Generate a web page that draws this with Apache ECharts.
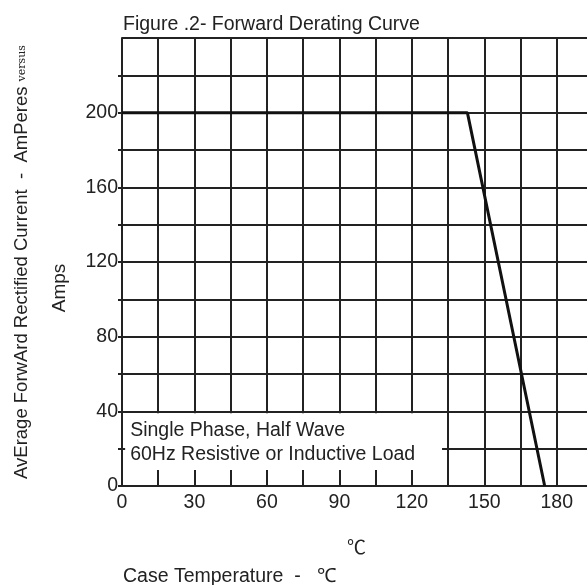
<!DOCTYPE html>
<html>
<head>
<meta charset="utf-8">
<script src="https://cdn.jsdelivr.net/npm/echarts@6/dist/echarts.min.js"></script>
<style>
  html, body { margin: 0; padding: 0; background: #fff; }
  #chart { width: 587px; height: 585px; }
</style>
</head>
<body>
<div id="chart"></div>
<script>
// 曲线数据
const caseTemp = [0, 143, 175];
const currentAmps = [200, 200, 0];
const noteLines = ["Single Phase, Half Wave", "60Hz Resistive or Inductive Load"];

const FONT = "Liberation Sans";
const INK = "#222";

const chart = echarts.init(document.getElementById("chart"));
const points = caseTemp.map(function (t, i) {
  return [t, currentAmps[i]];
});

const option = {
  animation: false,
  title: [
    {
      text: "Figure .2- Forward Derating Curve",
      left: 123,
      top: 15,
      padding: 0,
      textStyle: { fontFamily: FONT, fontSize: 19.5, fontWeight: "normal", color: INK },
    },
    {
      text: "℃",
      left: 347,
      top: 537,
      padding: 0,
      textStyle: { fontFamily: "Noto Sans CJK SC", fontSize: 19, fontWeight: "normal", color: INK },
    },
    {
      text: "Case Temperature  -   ℃",
      left: 123,
      top: 567,
      padding: 0,
      textStyle: { fontFamily: FONT, fontSize: 19.5, fontWeight: "normal", color: INK },
    },
  ],
  grid: { left: 122, right: -6, top: 38, bottom: 99, outerBoundsMode: "none" },
  xAxis: {
    type: "value",
    min: 0,
    max: 195,
    interval: 15,
    axisLine: { show: true, lineStyle: { color: INK, width: 2 } },
    axisTick: { show: false },
    splitLine: { show: true, lineStyle: { color: INK, width: 2 } },
    axisLabel: {
      fontFamily: FONT,
      fontSize: 19.5,
      color: INK,
      margin: 7,
      formatter: function (v) {
        return v % 30 === 0 ? String(v) : "";
      },
    },
  },
  yAxis: {
    type: "value",
    min: 0,
    max: 240,
    interval: 20,
    axisLine: { show: true, lineStyle: { color: INK, width: 2 } },
    axisTick: { show: true, length: 4, lineStyle: { color: INK, width: 2 } },
    splitLine: { show: true, lineStyle: { color: INK, width: 2 } },
    axisLabel: {
      fontFamily: FONT,
      fontSize: 19.5,
      color: INK,
      margin: 4,
      showMaxLabel: false,
      formatter: function (v) {
        return v % 40 === 0 ? String(v) : "";
      },
    },
    name:
      "{a|AvErage ForwArd Rectified Current  -  AmPeres }{v|versus}\n{b|Amps}",
    nameLocation: "middle",
    nameRotate: 90,
    nameGap: 43,
    nameTextStyle: {
      rich: {
        a: { fontFamily: FONT, fontSize: 18.5, color: INK, lineHeight: 38 },
        v: { fontFamily: "DejaVu Serif", fontSize: 11, color: INK, lineHeight: 38 },
        b: { fontFamily: FONT, fontSize: 19, color: INK, lineHeight: 38, padding: [0, 52, 0, 0] },
      },
    },
  },
  series: [
    {
      type: "line",
      data: points,
      symbol: "none",
      lineStyle: { color: "#111", width: 3 },
      markArea: {
        silent: true,
        itemStyle: { color: "#fff", opacity: 1 },
        label: {
          show: true,
          position: "insideTopLeft",
          distance: 5,
          fontFamily: FONT,
          fontSize: 19.5,
          lineHeight: 24,
          color: INK,
          formatter: noteLines.join("\n"),
        },
        data: [[{ coord: [1.3, 8.6] }, { coord: [132.5, 39] }]],
      },
    },
  ],
};
chart.setOption(option);
</script>
</body>
</html>
